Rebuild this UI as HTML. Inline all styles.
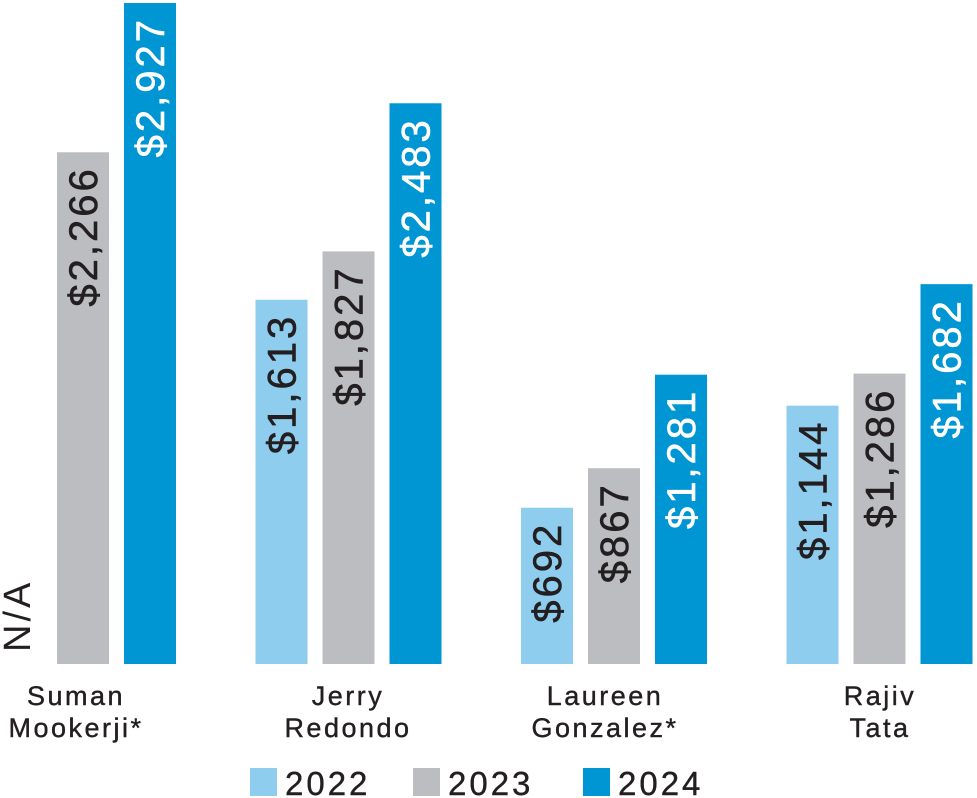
<!DOCTYPE html>
<html><head><meta charset="utf-8"><style>
html,body{margin:0;padding:0;background:#fff;}
svg{display:block;font-family:"Liberation Sans",sans-serif;}
</style></head><body>
<svg id="chart" width="977" height="798" viewBox="0 0 977 798" xmlns="http://www.w3.org/2000/svg">
<g id="bars"></g>
<g id="cats"></g>
<g id="legend"></g>
</svg>
<script>
const categories = [["Suman","Mookerji*"],["Jerry","Redondo"],["Laureen","Gonzalez*"],["Rajiv","Tata"]];
const years = ["2022","2023","2024"];
const values2022 = [null,1613,692,1144];
const values2023 = [2266,1827,867,1286];
const values2024 = [2927,2483,1281,1682];
const series=[values2022,values2023,values2024];
const colors=["#8ecdee","#bcbdc0","#0095d3"];
const textColors=["#231f20","#231f20","#ffffff"];
const NS="http://www.w3.org/2000/svg";
const baseY=664, scale=(664-3)/2927;
const y=v=>baseY-v*scale;
const groupX=i=>-10+i*265.5;
const barW=52, barStep=67;
const fmt=v=>"$"+v.toLocaleString("en-US");
const bars=document.getElementById("bars");
function mk(tag,attrs,parent){const e=document.createElementNS(NS,tag);for(const k in attrs)e.setAttribute(k,attrs[k]);parent.appendChild(e);return e;}
categories.forEach((c,i)=>{
  series.forEach((s,j)=>{
    const x=groupX(i)+j*barStep;
    const v=s[i];
    if(v===null){
      const t=mk("text",{x:0,y:0,transform:`translate(${x+barW/2+14},${baseY-12}) rotate(-90)`,"font-size":38,"letter-spacing":3,fill:"#231f20"},bars);
      
      
      t.textContent="N/A";
      return;
    }
    const r=mk("rect",{x:x,y:y(v),width:barW,height:baseY-y(v),fill:colors[j]},bars);
    
    
    const t=mk("text",{x:0,y:0,transform:`translate(${x+barW/2+14},${y(v)+14}) rotate(-90)`,"font-size":40,"letter-spacing":3,fill:textColors[j],stroke:textColors[j],"stroke-width":0.6,"text-anchor":"end"},bars);
    
    
    t.textContent=fmt(v);
  });
});
const cats=document.getElementById("cats");
const catCx=[76,348,605,880];
categories.forEach((c,i)=>{
  c.forEach((line,k)=>{
    const t=mk("text",{x:catCx[i],y:705+k*32,"font-size":27,"letter-spacing":2.5,"text-anchor":"middle",fill:"#231f20",stroke:"#231f20","stroke-width":0.4},cats);
    
    
    t.textContent=line;
  });
});
const legend=document.getElementById("legend");
const legX=[250,413,583];
years.forEach((yr,j)=>{
  const r=mk("rect",{x:legX[j],y:768,width:27,height:28,fill:colors[j]},legend);
  
  
  const t=mk("text",{x:legX[j]+35,y:795,"font-size":33,"letter-spacing":3,fill:"#231f20",stroke:"#231f20","stroke-width":0.4},legend);
  
  
  t.textContent=yr;
});
</script>
</body></html>
